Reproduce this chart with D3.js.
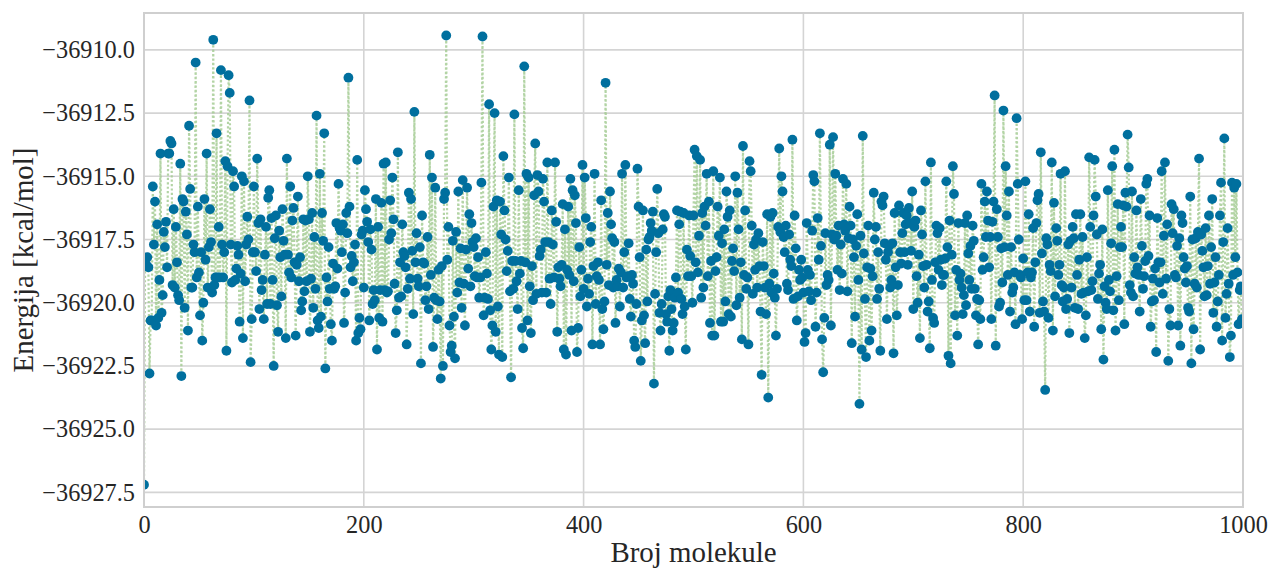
<!DOCTYPE html>
<html>
<head>
<meta charset="utf-8">
<script src="https://cdn.jsdelivr.net/npm/d3@7"></script>
<style>
body{margin:0;background:#fff;}
text{font-family:"Liberation Serif",serif;fill:#262626;}
</style>
</head>
<body>
<svg id="chart" width="1271" height="571"></svg>
<script>
// energies, as offsets from -36900 kcal/mol, index = molecule number
const energyBase=-36900;
const block0=[-27.2,-18.3,-18.5,-18.2,-18.6,-22.8,-20.7,-20.7,-15.4,-17.7,
-16.0,-20.9,-16.9,-20.6,-19.1,-14.1,-20.4,-19.7,-17.2,-17.8,
-16.8,-18.6,-14.1,-14.1,-13.6,-13.7,-19.3,-16.3,-19.4,-17.0,
-18.4,-19.7,-19.9,-14.5,-22.9,-15.9,-16.0,-20.2,-16.4,-17.3,
-21.1,-13.0,-15.5,-19.4,-19.4,-17.7,-18.0,-10.5,-19.0,-16.2,
-18.8,-20.5,-18.0,-21.5,-20.0,-15.9,-18.3,-14.1,-19.4,-17.8,
-16.3,-17.6,-19.6,-9.6,-19.3,-19.0,-13.3,-19.0,-17.0,-19.0,
-10.8,-17.7,-19.0,-18.0,-14.4,-21.9,-14.6,-11.0,-11.7,-17.7,
-19.2,-14.8,-15.4,-19.1,-18.65,-17.75,-18.1,-20.75,-18.85,-15.0,
-21.4,-15.2,-19.15,-17.7,-16.6,-17.5,-12.0,-22.35,-20.65,-18.0];
const block1=[-15.4,-18.0,-18.75,-14.3,-16.85,-20.25,-16.7,-19.5,-19.1,-20.65,
-18.1,-17.0,-20.05,-15.85,-15.55,-20.05,-16.65,-19.1,-22.5,-17.45,
-16.55,-20.1,-21.15,-17.15,-18.2,-19.75,-16.3,-17.55,-18.1,-21.4,
-14.3,-18.1,-18.8,-15.4,-19.0,-16.75,-16.25,-18.4,-21.3,-18.5,
-15.8,-19.15,-18.2,-20.3,-19.95,-16.7,-19.55,-16.75,-19.15,-15.0,
-16.7,-21.15,-19.05,-16.45,-20.2,-17.4,-19.45,-12.6,-20.7,-21.0,
-14.9,-20.55,-16.45,-17.55,-13.3,-22.6,-19.0,-19.95,-17.8,-19.45,
-20.85,-21.5,-18.45,-19.45,-19.35,-16.85,-18.65,-15.3,-17.05,-17.15,
-18.0,-16.9,-20.8,-19.6,-16.45,-17.25,-11.1,-16.2,-18.6,-18.15,
-19.15,-18.4,-17.7,-21.5,-14.35,-21.2,-20.6,-21.05,-17.3,-17.15];
const block2=[-19.4,-15.55,-16.3,-16.8,-17.6,-20.7,-17.1,-17.9,-20.05,-19.5,
-19.9,-15.9,-21.85,-17.0,-20.6,-19.5,-16.05,-20.75,-14.5,-19.5,
-14.45,-19.6,-19.55,-17.5,-15.95,-17.25,-15.05,-16.7,-19.25,-21.2,
-20.3,-14.05,-19.8,-18.4,-19.75,-16.9,-18.0,-18.15,-18.6,-21.65,
-19.45,-15.65,-19.05,-15.9,-17.95,-20.45,-12.45,-18.4,-17.25,-19.05,
-19.35,-17.8,-22.4,-16.55,-18.4,-18.45,-19.9,-19.35,-17.4,-20.25,
-14.15,-18.9,-15.05,-21.75,-19.8,-15.45,-19.9,-20.65,-18.7,-19.95,
-23.0,-18.55,-22.5,-15.9,-15.65,-9.43,-18.3,-17.0,-20.9,-21.95,
-21.7,-17.55,-20.55,-22.2,-17.2,-19.6,-15.6,-19.2,-17.85,-20.2,
-15.15,-19.25,-20.9,-17.9,-15.45,-18.65,-16.5,-19.35,-16.85,-17.6];
const block3=[-17.8,-18.95,-17.45,-19.0,-18.2,-19.8,-19.0,-15.25,-9.47,-20.5,
-19.8,-18.0,-18.85,-19.85,-12.15,-20.3,-21.85,-20.9,-16.2,-12.5,
-21.15,-15.95,-20.15,-22.05,-16.0,-17.3,-22.15,-14.2,-16.35,-17.5,
-18.75,-17.95,-15.05,-19.55,-22.95,-18.35,-19.45,-12.55,-18.35,-19.15,
-20.25,-15.55,-18.85,-18.35,-21.0,-21.8,-10.65,-18.4,-14.9,-20.7,
-15.05,-19.35,-21.2,-18.55,-19.9,-15.75,-13.7,-19.65,-14.95,-15.6,
-18.15,-17.9,-19.6,-15.1,-16.0,-17.6,-19.6,-14.45,-17.6,-19.05,
-20.05,-16.35,-17.7,-19.0,-14.45,-16.8,-21.15,-18.6,-19.05,-19.35,
-18.5,-16.1,-21.85,-17.1,-22.05,-18.7,-16.2,-18.9,-15.1,-21.1,
-15.55,-19.15,-15.75,-16.85,-21.95,-21.0,-17.8,-19.75,-18.7,-14.55];
const block4=[-19.45,-15.05,-16.65,-20.15,-19.05,-19.65,-17.6,-17.0,-21.65,-18.55,
-14.9,-20.05,-18.95,-18.4,-19.1,-21.65,-15.95,-20.25,-21.05,-19.95,
-11.3,-18.5,-16.45,-19.3,-15.6,-16.9,-17.45,-19.4,-17.6,-20.8,
-19.1,-19.35,-18.65,-20.15,-18.8,-14.9,-19.4,-18.0,-14.55,-19.0,
-18.95,-17.65,-19.85,-20.55,-18.9,-19.25,-21.5,-21.75,-20.05,-14.7,
-16.2,-18.2,-22.3,-20.7,-16.35,-20.5,-21.6,-17.9,-19.95,-17.5,
-17.4,-16.85,-17.15,-16.4,-23.2,-19.65,-18.0,-15.5,-17.25,-20.4,
-21.1,-20.05,-17.1,-16.5,-16.6,-20.45,-20.75,-19.75,-21.9,-19.5,
-20.25,-21.1,-20.8,-19.8,-19.0,-16.35,-19.6,-16.9,-16.4,-19.85,
-20.45,-16.45,-20.15,-21.85,-17.9,-18.95,-16.55,-18.15,-18.95,-20.0];
const block5=[-16.55,-13.95,-18.4,-14.2,-18.8,-17.35,-14.35,-19.8,-16.45,-19.4,
-16.2,-16.95,-14.9,-18.95,-16.0,-20.8,-18.35,-21.3,-14.8,-21.3,
-18.75,-18.2,-16.2,-17.35,-15.05,-20.75,-17.65,-20.75,-17.1,-19.95,
-15.6,-16.6,-20.45,-16.35,-20.55,-18.35,-17.85,-18.75,-15.0,-20.1,
-15.65,-17.1,-19.8,-18.4,-21.45,-13.8,-18.9,-16.35,-19.45,-19.0,
-21.65,-14.4,-14.8,-16.95,-19.65,-17.7,-18.7,-17.5,-19.4,-17.25,
-18.55,-20.35,-22.85,-17.6,-18.55,-19.4,-20.45,-16.5,-23.75,-19.25,
-16.6,-19.6,-16.45,-18.85,-19.8,-21.3,-19.45,-17.0,-13.9,-17.2,
-15.0,-15.6,-17.4,-18.0,-16.95,-19.25,-19.5,-17.3,-18.3,-18.55,
-13.55,-19.85,-16.55,-17.85,-20.7,-19.75,-18.7,-19.1,-18.3,-19.0];
const block6=[-19.6,-21.55,-21.2,-16.85,-18.7,-19.55,-18.9,-19.9,-17.15,-14.95,
-15.2,-20.95,-19.6,-16.65,-18.3,-13.3,-17.75,-21.45,-22.75,-20.6,
-17.25,-19.3,-18.9,-19.1,-13.75,-20.9,-17.3,-13.45,-17.5,-14.9,
-17.35,-18.7,-16.95,-19.5,-17.7,-18.85,-15.1,-16.9,-17.15,-15.3,
-19.55,-17.45,-16.2,-16.95,-21.6,-17.5,-18.2,-20.55,-17.75,-16.5,
-19.1,-24.0,-17.35,-21.85,-13.4,-18.05,-19.85,-22.15,-18.6,-16.95,
-21.5,-18.65,-21.1,-18.95,-15.65,-17.5,-17.0,-19.85,-18.0,-19.45,
-21.9,-16.0,-16.15,-15.8,-17.65,-18.3,-20.65,-18.0,-17.75,-19.4,
-19.1,-17.65,-22.0,-16.45,-18.6,-20.5,-19.3,-16.15,-18.0,-18.45,
-17.25,-16.45,-18.0,-16.9,-16.55,-18.5,-16.25,-16.85,-17.95,-15.6];
const block7=[-20.25,-17.0,-16.75,-18.95,-20.0,-18.1,-21.4,-16.35,-17.3,-18.55,
-19.4,-15.2,-18.5,-20.35,-19.95,-21.8,-14.45,-19.1,-20.6,-20.8,
-18.4,-16.95,-17.25,-18.7,-17.05,-18.3,-19.3,-18.9,-18.9,-18.25,
-15.2,-17.8,-22.1,-16.75,-22.4,-18.1,-14.6,-15.7,-20.5,-18.7,
-21.3,-16.85,-19.1,-18.85,-19.4,-20.45,-19.7,-16.85,-20.1,-16.55,
-18.05,-19.1,-17.75,-19.45,-16.95,-17.55,-19.45,-20.5,-19.85,-21.65,
-19.9,-20.65,-15.3,-18.7,-18.2,-16.0,-17.4,-15.6,-16.75,-18.6,
-17.4,-20.65,-16.8,-16.0,-11.8,-21.7,-16.3,-17.4,-20.15,-20.0,
-17.85,-19.2,-12.4,-17.8,-14.6,-16.55,-18.9,-15.6,-20.35,-17.8,
-19.6,-19.4,-18.8,-20.85,-12.7,-15.3,-17.5,-18.9,-19.0,-20.65];
const block8=[-18.25,-19.9,-15.2,-19.9,-18.8,-16.5,-20.35,-19.0,-18.8,-17.05,
-20.95,-18.4,-16.85,-15.95,-15.7,-20.4,-14.05,-18.05,-19.95,-20.35,
-23.45,-17.45,-17.7,-20.6,-18.5,-18.75,-14.45,-21.1,-16.05,-19.75,
-17.05,-17.55,-18.9,-18.5,-14.9,-19.3,-19.95,-19.4,-14.8,-20.25,
-19.85,-17.7,-21.2,-17.55,-19.4,-17.0,-17.45,-20.2,-16.5,-18.9,
-20.25,-18.3,-16.5,-19.65,-17.4,-19.6,-21.4,-20.5,-18.2,-19.55,
-14.25,-17.0,-19.5,-19.15,-16.55,-14.35,-15.8,-17.3,-19.85,-18.85,
-18.5,-21.05,-17.1,-22.25,-19.35,-20.0,-20.25,-15.55,-19.1,-19.55,
-17.65,-14.6,-20.3,-13.95,-21.1,-18.95,-16.1,-19.9,-17.8,-17.0,
-17.8,-16.15,-20.85,-15.65,-16.2,-13.35,-14.65,-19.3,-19.6,-15.6];
const block9=[-19.75,-18.2,-18.85,-16.35,-18.6,-18.9,-20.35,-15.9,-17.75,-19.45,
-18.95,-18.35,-15.3,-15.1,-18.15,-16.55,-20.95,-19.95,-19.05,-19.9,
-18.65,-21.95,-16.65,-18.4,-19.2,-18.4,-14.8,-19.65,-17.35,-14.45,
-19.05,-16.9,-22.3,-20.25,-20.9,-16.1,-17.25,-16.3,-18.9,-19.0,
-17.75,-20.9,-17.45,-21.7,-16.55,-16.85,-18.2,-18.65,-19.2,-18.55,
-20.2,-20.35,-15.8,-22.4,-17.5,-21.05,-19.25,-17.45,-19.4,-17.2,
-14.3,-21.85,-17.3,-17.95,-18.6,-19.75,-17.05,-19.7,-18.55,-16.55,
-19.25,-17.8,-15.9,-20.4,-19.2,-18.2,-20.95,-19.95,-18.9,-16.55,
-15.25,-21.5,-17.6,-13.5,-20.6,-19.65,-17.05,-19.25,-22.15,-21.3,
-15.25,-18.9,-15.45,-18.2,-15.3,-18.8,-20.85,-19.5,-19.35,-20.65];

const xTicks=[0,200,400,600,800,1000];
const yTicks=[-36910,-36912.5,-36915,-36917.5,-36920,-36922.5,-36925,-36927.5];
const xTitle="Broj molekule";
const yTitle="Energija [kcal/mol]";

const energies=[].concat(block0,block1,block2,block3,block4,block5,block6,block7,block8,block9);
const data=energies.map((e,i)=>({idx:i,energy:energyBase+e}));

const svg=d3.select("#chart");
const margin={top:13,right:28,bottom:64,left:144};
const W=1271,H=571;
const x=d3.scaleLinear().domain([0,1000]).range([margin.left,W-margin.right]);
const y=d3.scaleLinear().domain([-36908.54,-36928.08]).range([margin.top,H-margin.bottom]);

svg.append("defs").append("clipPath").attr("id","plotClip").append("rect")
    .attr("x",margin.left).attr("y",margin.top)
    .attr("width",W-margin.left-margin.right).attr("height",H-margin.top-margin.bottom);

// grid
svg.append("g").selectAll("line").data(xTicks).enter().append("line")
    .attr("x1",d=>x(d)).attr("x2",d=>x(d))
    .attr("y1",margin.top).attr("y2",H-margin.bottom)
    .attr("stroke","#d4d4d4").attr("stroke-width",1.6);
svg.append("g").selectAll("line").data(yTicks).enter().append("line")
    .attr("x1",margin.left).attr("x2",W-margin.right)
    .attr("y1",d=>y(d)).attr("y2",d=>y(d))
    .attr("stroke","#d4d4d4").attr("stroke-width",1.6);

const plot=svg.append("g").attr("clip-path","url(#plotClip)");
const line=d3.line().x(d=>x(d.idx)).y(d=>y(d.energy));
plot.append("path").datum(data)
    .attr("d",line)
    .attr("fill","none")
    .attr("stroke","#a6cd95")
    .attr("stroke-opacity",0.85)
    .attr("stroke-width",2.2)
    .attr("stroke-dasharray","2.2,2.2");
plot.selectAll("circle").data(data).enter().append("circle")
    .attr("cx",d=>x(d.idx))
    .attr("cy",d=>y(d.energy))
    .attr("r",4.9)
    .attr("fill","#006f9e");

// axes
const gx=svg.append("g").attr("transform","translate(0,"+(H-margin.bottom)+")")
    .call(d3.axisBottom(x).tickValues(xTicks).tickSize(0).tickPadding(9).tickFormat(d3.format("d")));
const gy=svg.append("g").attr("transform","translate("+margin.left+",0)")
    .call(d3.axisLeft(y).tickValues(yTicks).tickSize(0).tickPadding(9).tickFormat(d3.format(".1f")));
gx.select(".domain").remove();
gy.select(".domain").remove();
gx.selectAll("text").attr("font-size",24.3).attr("fill","#262626").style("font-family","'Liberation Serif',serif");
gy.selectAll("text").attr("font-size",24.3).attr("fill","#262626").style("font-family","'Liberation Serif',serif");

// frame
svg.append("rect")
    .attr("x",margin.left).attr("y",margin.top)
    .attr("width",W-margin.left-margin.right).attr("height",H-margin.top-margin.bottom)
    .attr("fill","none").attr("stroke","#cfcfcf").attr("stroke-width",2);

svg.append("text").attr("x",(margin.left+W-margin.right)/2).attr("y",562)
    .attr("text-anchor","middle").attr("font-size",28.9).text(xTitle);
svg.append("text").attr("transform","translate(33,"+(margin.top+H-margin.bottom)/2+") rotate(-90)")
    .attr("text-anchor","middle").attr("font-size",28.9).text(yTitle);
</script>
</body>
</html>
